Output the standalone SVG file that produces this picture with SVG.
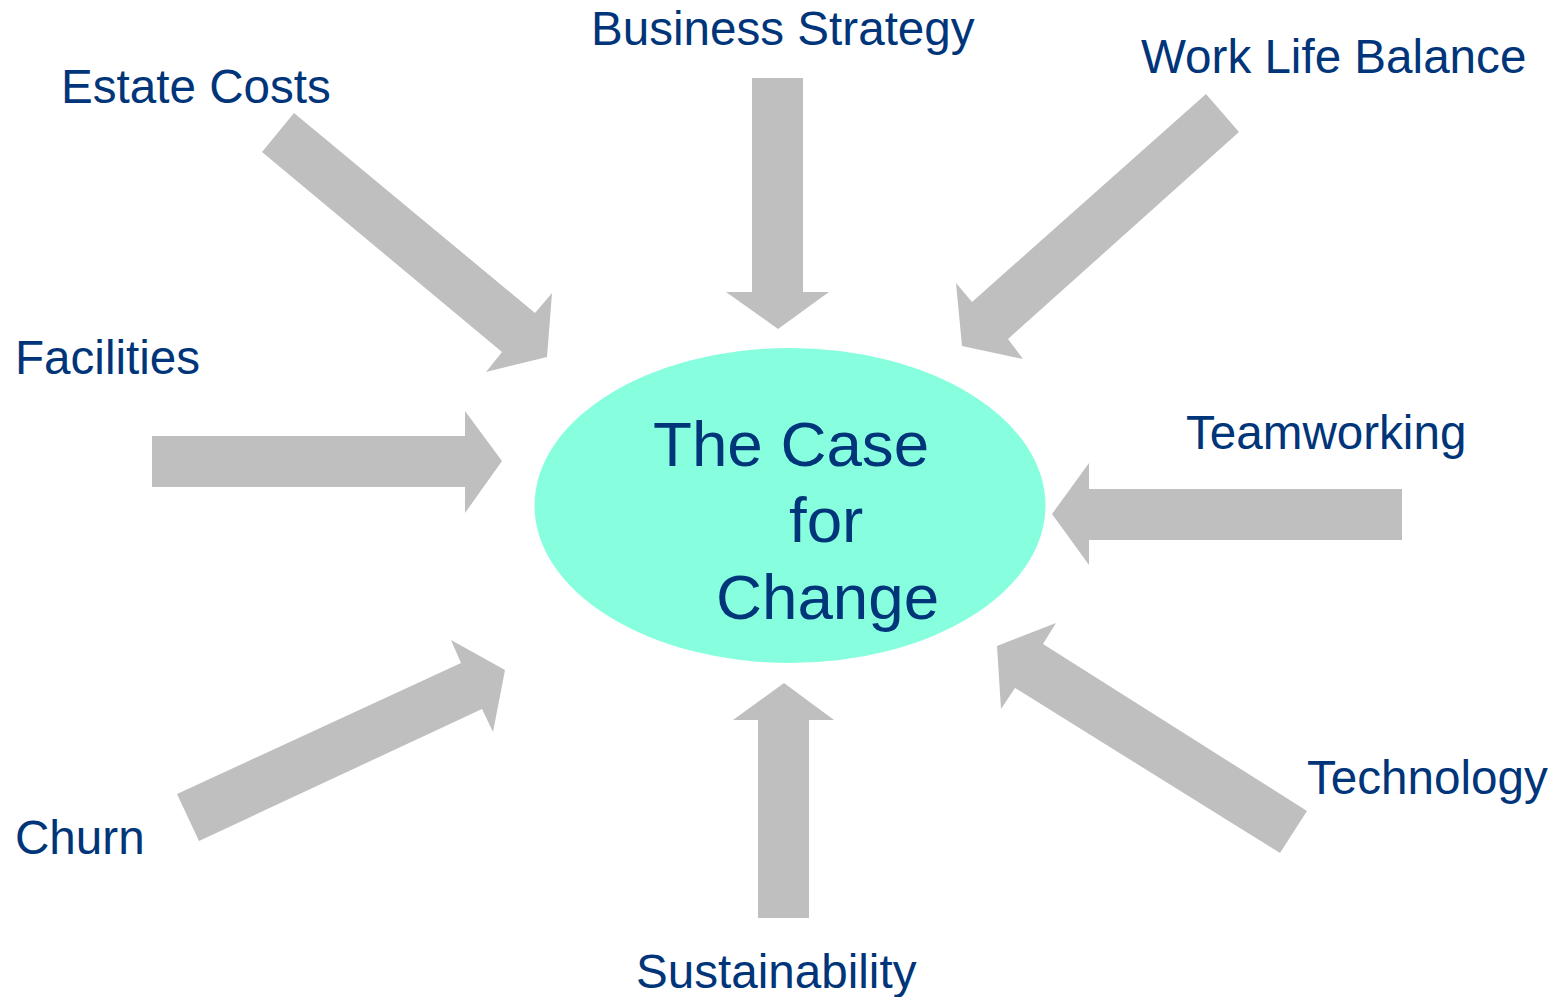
<svg xmlns="http://www.w3.org/2000/svg" width="1554" height="997" viewBox="0 0 1554 997">
<style>
.arrow{fill:#BFBFBF;stroke:none}
.lbl{font-family:"Liberation Sans",Arial,sans-serif;font-size:47.6px;fill:#00357A}
.ctr{font-family:"Liberation Sans",Arial,sans-serif;font-size:63.7px;fill:#00357A}
</style>
<rect width="1554" height="997" fill="#FFFFFF"/>
<g id="connectors">
<polygon class="arrow" points="294,113 535,313 552,293 547,357 486,372 502,352 262,152"/>
<polygon class="arrow" points="752,78 803,78 803,292 829,292 778,329 726,292 752,292"/>
<polygon class="arrow" points="1206,94 1239,132 1008,339 1023,359 962,346 956,283 972,302"/>
<polygon class="arrow" points="152,436 465,436 465,411 502,461 465,513 465,487 152,487"/>
<polygon class="arrow" points="1402,489 1089,489 1089,463 1052,514 1089,565 1089,540 1402,540"/>
<polygon class="arrow" points="1307,811 1280,853 1015,688 1001,709 997,646 1056,623 1043,644"/>
<polygon class="arrow" points="177,794 461,663 451,640 505,670 493,732 482,709 199,841"/>
<polygon class="arrow" points="758,918 809,918 809,720 834,720 784,683 733,720 758,720"/>
</g>
<g id="center">
<ellipse cx="790" cy="505.5" rx="255.5" ry="157.5" fill="#87FFDE"/>
<text class="ctr" x="653" y="466">The Case</text>
<text class="ctr" x="789" y="542">for</text>
<text class="ctr" x="716" y="619">Change</text>
</g>
<g id="estate-costs"><text class="lbl" x="61" y="103">Estate Costs</text></g>
<g id="business-strategy"><text class="lbl" x="591" y="45">Business Strategy</text></g>
<g id="work-life-balance"><text class="lbl" x="1141" y="73">Work Life Balance</text></g>
<g id="facilities"><text class="lbl" x="15" y="374">Facilities</text></g>
<g id="teamworking"><text class="lbl" x="1186" y="449">Teamworking</text></g>
<g id="technology"><text class="lbl" x="1307" y="794">Technology</text></g>
<g id="churn"><text class="lbl" x="15" y="854">Churn</text></g>
<g id="sustainability"><text class="lbl" x="636" y="988">Sustainability</text></g>
</svg>
